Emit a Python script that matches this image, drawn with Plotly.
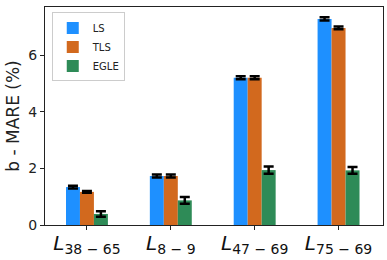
import plotly.graph_objects as go

categories = ["L38-65", "L8-9", "L47-69", "L75-69"]
tick_labels = ["<i>L</i><sub>38 − 65</sub>", "<i>L</i><sub>8 − 9</sub>",
               "<i>L</i><sub>47 − 69</sub>", "<i>L</i><sub>75 − 69</sub>"]
ls_vals = [1.34, 1.73, 5.20, 7.28]
ls_err = [0.05, 0.05, 0.05, 0.06]
tls_vals = [1.17, 1.73, 5.20, 6.96]
tls_err = [0.03, 0.05, 0.05, 0.05]
egle_vals = [0.39, 0.87, 1.94, 1.93]
egle_err = [0.10, 0.12, 0.13, 0.12]

series = [("LS", ls_vals, ls_err, "#1E90FF"),
          ("TLS", tls_vals, tls_err, "#D2691E"),
          ("EGLE", egle_vals, egle_err, "#2E8B57")]

fig = go.Figure()
for name, vals, err, col in series:
    fig.add_trace(go.Bar(
        x=categories, y=vals, name=name, marker=dict(color=col, line=dict(width=0)),
        error_y=dict(type="data", array=err, color="black", thickness=2.5, width=5),
    ))

fig.update_layout(
    width=387, height=260,
    margin=dict(l=45, r=4, t=7, b=35),
    barmode="group", bargap=0.5, bargroupgap=0,
    plot_bgcolor="white", paper_bgcolor="white",
    font=dict(family="DejaVu Sans", color="#222"),
    showlegend=True,
    legend=dict(x=0.02, y=0.975, xanchor="left", yanchor="top",
                bgcolor="white", bordercolor="#ccc", borderwidth=1,
                font=dict(size=10), tracegroupgap=0, itemwidth=30),
    xaxis=dict(tickmode="array", tickvals=categories, ticktext=tick_labels,
               range=[-0.5, 3.53], showline=True, linecolor="#222", linewidth=1,
               mirror=True, ticks="outside", ticklen=4, tickcolor="#222",
               tickfont=dict(size=20, color="#111"), showgrid=False,
               automargin=False, ticklabelstandoff=-4),
    yaxis=dict(range=[0, 7.7], tickvals=[0, 2, 4, 6], showline=True,
               linecolor="#222", linewidth=1, mirror=True, ticks="outside",
               ticklen=4, tickcolor="#222", tickfont=dict(size=14, color="#222"),
               showgrid=False, zeroline=False, automargin=False,
               title=dict(text="b - MARE (%)", font=dict(size=17, color="#222"), standoff=4)),
)

fig.write_html("out.html", config={"responsive": False, "displayModeBar": False},
               post_script="document.body.style.margin='0';document.body.style.overflow='hidden';")
